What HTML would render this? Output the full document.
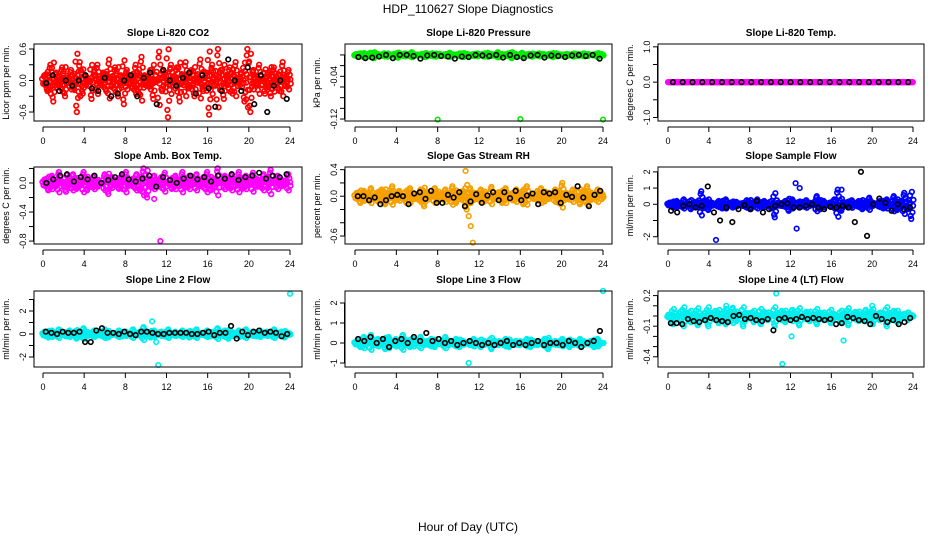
<!DOCTYPE html>
<html><head><meta charset="utf-8"><style>
html,body{margin:0;padding:0;background:#fff;}
svg{display:block;font-family:"Liberation Sans",sans-serif;}
</style></head><body>
<svg id="chart" width="936" height="540" viewBox="0 0 936 540">
<text x="468" y="13" font-size="12" text-anchor="middle">HDP_110627  Slope Diagnostics</text>
<text x="468" y="531" font-size="12" text-anchor="middle">Hour of Day (UTC)</text>
</svg>
<script>
// shared x ticks
const xTicks = [0,4,8,12,16,20,24];

// Panel 1: CO2
const co2Color = [0.1,-0.2,0.3,-0.4,0.15,-0.1,0.25,-0.3,0.05,0.2,-0.15,-0.6,0.35,-0.25,0.1,0.0,-0.35,0.2,0.3,-0.05,0.15,-0.2,0.4,-0.1,0.25,-0.3,0.1,-0.45,0.2,0.05,-0.15,0.3,-0.25,0.45,0.1,-0.1,0.2,-0.35,0.0,0.55,-0.2,0.15,-0.7,0.3,-0.05,0.25,-0.4,0.1,0.35,-0.15,0.2,-0.3,0.05,0.4,-0.2,0.15,-0.65,0.3,-0.1,0.6,0.2,-0.35,0.1,0.25,-0.25,0.35,-0.05,0.15,-0.4,0.6,-0.6,0.2,-0.1,0.3,0.0,-0.25,0.15,-0.3,0.25,0.05,-0.2,0.35,-0.1,0.2];
const co2Black = [-0.05,0.1,-0.2,0.0,-0.1,0.0,0.1,-0.15,-0.2,0.05,-0.3,-0.25,0.0,0.1,-0.3,0.05,0.15,-0.45,0.2,0.0,-0.1,0.05,0.15,-0.25,0.1,-0.15,-0.5,-0.2,0.4,0.0,-0.2,0.25,-0.45,0.1,-0.6,-0.1,0.0,-0.35];
// Panel 2: Pressure
const presColor = [-0.002,0.003,-0.004,0.001,0.004,-0.006,0.002,-0.001,0.003,-0.003,0.0,0.002,-0.005,0.001,0.003,-0.002,0.005,-0.001,0.0,0.002,-0.004,0.001,0.003,-0.003,0.002,0.0,-0.002,0.004,-0.001,0.001,0.003,-0.004,0.002,0.0,-0.002,0.003,0.001,-0.003,0.004,0.002,-0.001,0.005,-0.002,0.001,0.003,-0.006,0.002,0.0,0.004,-0.001,0.002,-0.003,0.001,0.003,-0.002,0.0,0.002,-0.004,0.003,0.001,-0.001,0.002,0.0,-0.003,0.002,0.001,0.003,-0.002,0.0,0.001,-0.004,0.002];
const presBlack = [-0.004,-0.006,-0.005,-0.003,0.0,-0.006,0.0,0.0,-0.002,-0.007,-0.001,0.0,-0.002,-0.003,-0.007,-0.003,-0.004,0.0,-0.001,-0.002,0.0,-0.005,0.0,-0.004,-0.006,-0.001,0.0,-0.005,-0.001,-0.002,-0.004,-0.001,0.0,-0.002,0.0,-0.007];
const presOutHours = [8.0,16.0,24.0];
const presOutValues = [-0.121,-0.120,-0.121];
// Panel 3: Temp
const tempColor = [0,0,0,0,0,0,0,0,0,0,0,0,0,0,0,0,0,0,0,0,0,0,0,0,0,0,0,0,0,0,0,0,0,0,0,0,0,0,0,0,0,0,0,0,0,0,0,0,0,0];
const tempBlack = [0,0,0,0,0,0,0,0,0,0,0,0,0,0,0,0,0,0,0,0,0,0,0,0,0];
// Panel 4: Amb Box Temp
const ambColor = [0.05,-0.1,0.1,-0.05,0.15,0.0,-0.12,0.08,0.12,-0.08,0.03,0.15,-0.1,0.06,0.1,-0.05,0.0,0.12,-0.15,0.08,0.04,-0.08,0.1,0.15,-0.03,0.06,0.12,-0.1,0.2,-0.2,0.05,0.1,-0.05,0.08,0.14,0.0,-0.08,0.1,0.05,0.15,-0.06,0.1,0.02,0.12,-0.04,0.08,0.15,-0.1,0.06,0.2,0.0,0.1,-0.06,0.12,0.05,0.15,-0.08,0.1,0.02,0.14,0.06,-0.05,0.12,0.08,0.18,0.0,0.1,0.05,-0.03,0.12];
const ambBlack = [0.0,0.05,0.1,0.12,0.02,0.08,0.05,0.1,0.0,0.04,0.08,0.12,0.05,0.02,0.06,0.1,-0.05,0.08,0.04,0.0,0.06,0.1,0.05,0.08,0.02,0.1,0.06,0.12,0.04,0.08,0.1,0.14,0.06,0.1,0.08,0.12];
const ambOutHours = [10.8,11.4];
const ambOutValues = [-0.22,-0.8];
// Panel 5: RH
const rhColor = [0.05,-0.1,0.08,-0.05,0.12,0.0,-0.08,0.1,-0.12,0.04,0.15,-0.06,0.08,0.0,-0.1,0.12,0.05,-0.04,0.1,-0.15,0.06,0.0,0.12,-0.08,0.04,0.1,-0.05,0.15,-0.1,0.02,0.08,-0.2,0.12,-0.06,0.05,0.1,-0.08,0.0,0.14,-0.04,0.06,-0.1,0.12,0.02,-0.06,0.1,0.04,-0.12,0.15,0.0,-0.04,0.08,0.12,-0.08,0.05,0.0,0.1,-0.1,0.2,0.05,-0.05,0.1,0.0,-0.12,0.08,0.15,-0.06,0.02,0.1,0.05];
const rhBlack = [0.0,0.0,-0.06,-0.02,-0.12,-0.06,0.0,0.02,0.0,-0.12,0.04,0.06,-0.04,0.08,-0.1,-0.1,0.02,-0.02,0.06,-0.15,-0.08,0.03,-0.1,0.01,0.06,-0.06,0.06,-0.03,0.08,-0.06,0.01,0.04,-0.12,0.06,0.04,0.06,-0.1,0.02,-0.01,0.15,-0.02,-0.15,0.02,0.08];
const rhOutHours = [10.7,11.0,11.2,11.4];
const rhOutValues = [0.38,-0.3,-0.45,-0.7];
// Panel 6: Sample Flow
const sfColor = [0.1,-0.2,0.2,-0.1,0.3,0.0,-0.3,0.15,-0.15,0.8,0.25,-0.35,0.1,-0.05,0.2,-0.25,0.3,0.0,-0.2,0.15,0.05,-0.1,0.25,-0.3,0.1,0.3,-0.15,0.2,0.0,-0.25,-0.8,0.1,-0.1,0.2,-0.4,0.3,0.0,-0.2,0.15,0.25,-0.1,0.05,0.5,-0.3,0.2,0.0,-0.15,0.3,0.9,-0.4,0.1,-0.2,0.25,0.0,0.2,-0.3,0.15,0.4,-0.1,0.05,0.2,-0.25,0.3,0.0,0.5,-0.35,0.2,0.7,-0.3,-0.9];
const sfBlack = [-0.4,-0.5,-0.1,0.0,-0.2,-0.1,1.1,-0.5,-1.0,-0.2,-1.1,-0.3,-0.05,-0.3,0.2,-0.5,-0.3,-0.1,0.0,0.05,-0.2,-0.2,-0.1,0.0,-0.2,-0.3,-0.15,-0.2,-0.1,-0.2,-1.1,2.0,-1.95,0.0,0.35,0.1,-0.4,0.0,-0.3,-0.2];
const sfOutHours = [4.7,12.5,12.6,12.9,17.0];
const sfOutValues = [-2.2,1.3,-1.5,1.0,0.9];
// Panel 7: Line 2 Flow
const l2Color = [0.2,-0.3,0.3,-0.1,0.4,0.0,-0.2,0.3,0.1,-0.4,0.2,0.5,-0.2,0.1,0.3,-0.1,0.2,0.4,-0.3,0.1,0.0,0.3,-0.2,0.2,0.1,0.4,-0.1,0.2,0.6,0.0,-0.3,0.3,0.1,0.2,-0.2,0.4,0.0,0.2,-0.1,0.3,0.1,-0.3,0.2,0.4,0.0,0.1,0.3,-0.2,0.2,0.5,0.0,0.3,-0.4,0.2,0.1,0.3,-0.1,0.4,0.0,0.2,-0.2,0.3,0.1,0.2,-0.1,0.4,0.0,0.2,-0.3,0.1];
const l2Black = [0.2,0.1,0.0,0.2,0.1,0.1,0.2,-0.7,-0.7,0.3,0.5,0.1,0.1,0.0,0.2,0.0,-0.1,0.2,0.2,0.1,0.0,0.0,0.1,0.1,0.1,0.1,0.0,0.0,0.1,0.2,-0.1,0.1,0.1,0.7,-0.4,0.2,-0.1,0.2,0.3,0.1,0.2,0.1,-0.2,0.0];
const l2OutHours = [10.6,11.0,11.2,24.0];
const l2OutValues = [1.1,-0.7,-2.7,3.5];
// Panel 8: Line 3 Flow
const l3Color = [0.1,-0.2,0.3,0.0,0.4,-0.1,0.2,0.1,-0.3,0.3,0.0,0.2,-0.1,0.4,0.1,-0.2,0.2,0.0,0.3,-0.1,0.1,0.2,-0.2,0.0,0.1,0.3,-0.1,0.0,0.2,-0.2,0.1,0.0,-0.1,0.2,0.0,-0.2,0.1,0.0,-0.3,0.1,-0.1,0.0,0.2,-0.2,0.0,0.1,-0.1,0.0,0.2,-0.2,0.1,-0.1,0.0,0.2,-0.3,0.0,0.1,-0.1,0.2,0.0,-0.2,0.1,0.0,0.2,-0.1,0.0,0.1,-0.2,0.2,0.0];
const l3Black = [0.2,0.1,0.3,0.0,0.2,-0.2,0.1,0.2,0.0,0.3,0.1,0.5,0.1,0.2,0.0,0.1,-0.1,0.0,0.1,0.0,-0.1,0.0,-0.1,0.0,0.1,-0.1,0.0,-0.1,0.0,0.1,-0.1,0.0,0.0,-0.1,0.1,0.0,-0.2,0.0,0.1,0.6];
const l3OutHours = [11.0,24.0];
const l3OutValues = [-1.0,2.6];
// Panel 9: Line 4 (LT) Flow
const l4Color = [-0.02,-0.08,0.0,-0.05,-0.1,0.02,-0.06,-0.03,-0.09,0.0,-0.04,-0.1,-0.02,0.05,-0.07,-0.03,-0.08,0.02,0.08,-0.05,0.0,-0.1,-0.03,0.03,-0.06,-0.01,-0.08,0.04,-0.04,0.0,-0.1,-0.02,0.05,-0.06,0.02,0.06,-0.03,-0.09,0.0,0.04,-0.05,-0.02,-0.08,0.03,-0.04,0.01,-0.07,-0.02,0.0,-0.06,0.03,-0.09,-0.01,0.04,-0.05,0.02,0.06,-0.03,-0.08,0.01,-0.04,0.03,-0.1,-0.02,0.05,-0.06,0.0,0.02,-0.04,0.01];
const l4Black = [-0.07,-0.07,-0.08,-0.03,-0.05,-0.06,-0.04,-0.02,-0.04,-0.05,-0.06,0.0,0.01,-0.03,-0.02,-0.04,-0.05,-0.03,-0.14,-0.03,-0.02,-0.04,-0.03,-0.01,-0.03,-0.02,-0.03,-0.04,-0.03,-0.08,-0.07,-0.01,-0.02,-0.04,-0.05,-0.08,0.0,-0.03,-0.06,-0.04,-0.08,-0.06,-0.02];
const l4OutHours = [10.6,11.2,12.1,17.2,5.7,20.0];
const l4OutValues = [0.22,-0.47,-0.2,-0.24,0.1,0.1];

const svg = document.getElementById('chart');
const NS = 'http://www.w3.org/2000/svg';
function mk(tag, attrs, parent){ const e=document.createElementNS(NS,tag); for(const k in attrs) e.setAttribute(k,attrs[k]); (parent||svg).appendChild(e); return e; }

const cols = [{l:34,r:302,x0:43,x24:290},{l:345,r:612,x0:355,x24:603},{l:658,r:924,x0:668,x24:913}];
const rows = [{t:44,b:121},{t:167,b:244},{t:291,b:367}];
// replica offsets used to densify the band of frequent samples (visual only)
const dens = [[0,1],[1.2,0.55],[-1.3,-0.6],[2.2,-0.3],[-2.4,0.3],[0.6,-0.85],[-0.6,0.8],[1.8,0.1]];

const panels = [
 {name:'co2',title:'Slope Li-820 CO2',ylab:'Licor ppm per min.',top:0.695,bot:-0.771,ticks:[0.6,0.3,0,-0.3,-0.6],labels:['0.6','','0.0','','-0.6'],color:'#ff0000',c:co2Color,k:co2Black,oh:[],ov:[]},
 {name:'pressure',title:'Slope Li-820 Pressure',ylab:'kPa per min.',top:0.0205,bot:-0.1237,ticks:[0,-0.02,-0.04,-0.06,-0.08,-0.1,-0.12],labels:['','','-0.04','','','','-0.12'],color:'#00ee00',c:presColor,k:presBlack,oh:presOutHours,ov:presOutValues},
 {name:'temp',title:'Slope Li-820 Temp.',ylab:'degrees C per min.',top:1.08,bot:-1.1,ticks:[1,0.5,0,-0.5,-1],labels:['1.0','','0.0','','-1.0'],color:'#ff00ff',c:tempColor,k:tempBlack,oh:[],ov:[]},
 {name:'amb-temp',title:'Slope Amb. Box Temp.',ylab:'degrees C per min.',top:0.22,bot:-0.84,ticks:[0.2,0,-0.2,-0.4,-0.6,-0.8],labels:['','0.0','','-0.4','','-0.8'],color:'#ff00ff',c:ambColor,k:ambBlack,oh:ambOutHours,ov:ambOutValues},
 {name:'rh',title:'Slope Gas Stream RH',ylab:'percent per min.',top:0.44,bot:-0.72,ticks:[0.4,0.2,0,-0.2,-0.4,-0.6],labels:['0.4','','0.0','','','-0.6'],color:'#f5a000',c:rhColor,k:rhBlack,oh:rhOutHours,ov:rhOutValues},
 {name:'sample-flow',title:'Slope Sample Flow',ylab:'ml/min per min.',top:2.3,bot:-2.45,ticks:[2,1,0,-1,-2],labels:['2','1','0','','-2'],color:'#0000ff',c:sfColor,k:sfBlack,oh:sfOutHours,ov:sfOutValues},
 {name:'line2-flow',title:'Slope Line 2 Flow',ylab:'ml/min per min.',top:3.74,bot:-2.87,ticks:[3,2,1,0,-1,-2],labels:['','2','','0','','-2'],color:'#00eeee',c:l2Color,k:l2Black,oh:l2OutHours,ov:l2OutValues},
 {name:'line3-flow',title:'Slope Line 3 Flow',ylab:'ml/min per min.',top:2.6,bot:-1.2,ticks:[2,1,0,-1],labels:['2','1','0','-1'],color:'#00eeee',c:l3Color,k:l3Black,oh:l3OutHours,ov:l3OutValues},
 {name:'line4-flow',title:'Slope Line 4 (LT) Flow',ylab:'ml/min per min.',top:0.245,bot:-0.5,ticks:[0.2,0.1,0,-0.1,-0.2,-0.3,-0.4],labels:['0.2','','','-0.1','','','-0.4'],color:'#00eeee',c:l4Color,k:l4Black,oh:l4OutHours,ov:l4OutValues}
];

panels.forEach((p,i)=>{
  const C=cols[i%3], R=rows[Math.floor(i/3)];
  const g=mk('g',{});
  
  
  const xs=h=>C.x0+(C.x24-C.x0)*h/24;
  const ys=v=>R.t+(p.top-v)/(p.top-p.bot)*(R.b-R.t);
  const t=mk('text',{x:(C.l+C.r)/2,y:R.t-8,'font-size':10,'font-weight':'bold','text-anchor':'middle'},g);
  t.textContent=p.title;
  
  
  const yl=mk('text',{x:0,y:0,'font-size':9,'text-anchor':'middle',transform:`translate(${C.l-25},${(R.t+R.b)/2}) rotate(-90)`},g);
  yl.textContent=p.ylab;
  
  
  const nC=p.c.length;
  p.c.forEach((v,j)=>{
    const h=24*(j+0.5)/nC;
    dens.forEach(d=>{
      const c=mk('circle',{cx:xs(h)+d[0],cy:ys(v*d[1]),r:2.3,fill:'none',stroke:p.color,'stroke-width':1.7},g);
      
      
    });
  });
  p.oh.forEach((h,j)=>{
    const c=mk('circle',{cx:xs(h),cy:ys(p.ov[j]),r:2.3,fill:'none',stroke:p.color,'stroke-width':1.6},g);
    
    
  });
  const nK=p.k.length;
  p.k.forEach((v,j)=>{
    const h=24*(j+0.5)/nK;
    const c=mk('circle',{cx:xs(h),cy:ys(v),r:2.3,fill:'none',stroke:'#000','stroke-width':1.6},g);
    
    
  });
  const b=mk('rect',{x:C.l,y:R.t,width:C.r-C.l,height:R.b-R.t,fill:'none',stroke:'#000','stroke-width':1},g);
  
  
  p.ticks.forEach((v,j)=>{
    const y=ys(v);
    mk('line',{x1:C.l-5,x2:C.l,y1:y,y2:y,stroke:'#000'},g);
    if(p.labels[j]){
      const tl=mk('text',{x:0,y:0,'font-size':9,'text-anchor':'middle',transform:`translate(${C.l-8},${y}) rotate(-90)`},g);
      tl.textContent=p.labels[j];
      
      
    }
  });
  mk('line',{x1:C.l-0.5,x2:C.l-0.5,y1:ys(p.ticks[0]),y2:ys(p.ticks[p.ticks.length-1]),stroke:'#000'},g);
  const xb=R.b+6;
  mk('line',{x1:xs(0),x2:xs(24),y1:xb,y2:xb,stroke:'#000'},g);
  xTicks.forEach(h=>{
    mk('line',{x1:xs(h),x2:xs(h),y1:xb,y2:xb+5,stroke:'#000'},g);
    const tl=mk('text',{x:xs(h),y:xb+17,'font-size':9,'text-anchor':'middle'},g);
    tl.textContent=h;
    
    
  });
});
</script>
</body></html>
